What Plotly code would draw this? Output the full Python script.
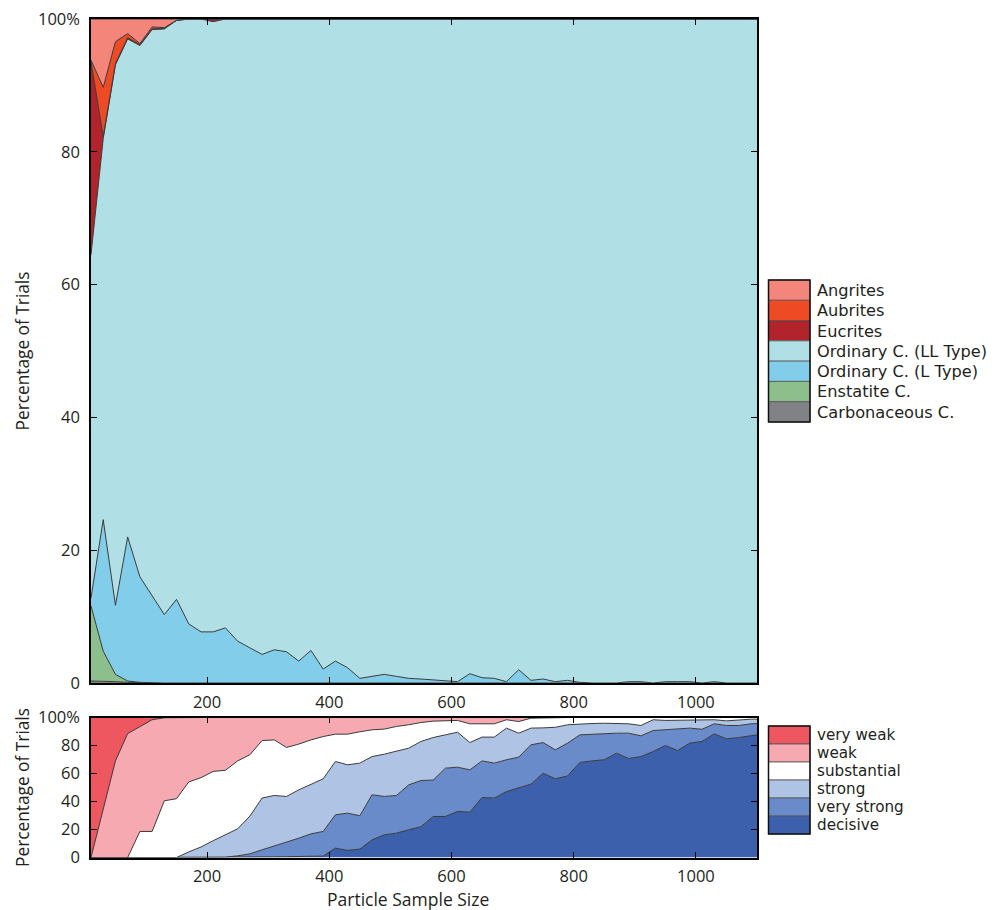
import plotly.graph_objects as go

# ---------------- data ----------------
sample_size = list(range(10, 1100, 20)) + [1100]

# top panel: percentage of trials classified as each meteorite type
carbonaceous = [0.3, 0.3, 0.2, 0.1] + [0.0] * 52
enstatite = [11.3, 4.5, 1.1, 0.2, 0.1] + [0.0] * 51
l_type = [1.2, 19.8, 10.4, 21.7, 15.9, 13.1, 10.3, 12.6, 8.9, 7.7, 7.7, 8.3, 6.3, 5.3,
          4.3, 5.0, 4.7, 3.3, 4.9, 2.1, 3.3, 2.3, 0.7, 1.0, 1.3, 1.0, 0.7, 0.6, 0.5, 0.4,
          0.2, 1.4, 0.8, 0.7, 0.2, 2.0, 0.4, 0.6, 0.2, 0.4, 0.1, 0, 0, 0, 0.2, 0.2, 0,
          0.2, 0.2, 0.2, 0, 0.2, 0, 0, 0, 0]
ll_type = [51.7, 57.4, 81.4, 75.0, 80.0, 85.3, 88.2, 87.2, 91.1, 92.3, 91.9, 91.7, 93.7,
           94.7, 95.7, 95.0, 95.3, 96.7, 95.1, 97.9, 96.7, 97.7, 99.3, 99.0, 98.7, 99.0,
           99.3, 99.4, 99.5, 99.6, 99.8, 98.6, 99.2, 99.3, 99.8, 98.0, 99.6, 99.4, 99.8,
           99.6, 99.9, 100, 100, 100, 99.8, 99.8, 100, 99.8, 99.8, 99.8, 100, 99.8, 100,
           100, 100, 100]
eucrites = [29.1, 0.3, 0.2, 0.2, 0.1, 0.1, 0.1, 0, 0, 0, 0.4] + [0.0] * 45
aubrites = [0.2, 7.4, 3.3, 0.6, 0.2, 0.3, 0.1] + [0.0] * 49
angrites = [6.2, 10.3, 3.4, 2.2, 3.7, 1.2, 1.3, 0.2] + [0.0] * 48

# bottom panel: strength of evidence
decisive = [0.0] * 12 + [0.3, 0.4, 0.5, 0.5, 0.6, 0.7, 0.8, 1.0, 6.7, 5.1, 6.0, 12.6, 16.2,
                         17.4, 19.8, 22.0, 29.3, 29.3, 32.9, 32.4, 42.9, 42.4, 47.1, 50.0,
                         52.4, 60.2, 56.2, 58.3, 67.9, 69.0, 69.8, 74.5, 70.7, 72.1, 75.7,
                         80.0, 76.4, 81.7, 82.9, 88.3, 84.8, 85.7, 87.1, 87.6]
very_strong = [0.0] * 11 + [0.3, 0.9, 2.2, 5.0, 7.8, 10.1, 13.1, 16.1, 17.6, 23.8, 26.6,
                            23.8, 32.2, 27.4, 26.9, 32.1, 33.0, 26.0, 34.5, 31.6, 30.2,
                            26.1, 25.0, 22.7, 21.7, 28.1, 21.9, 20.7, 23.4, 19.7, 19.1,
                            18.3, 14.3, 18.1, 14.8, 15.0, 11.2, 15.2, 10.7, 8.7, 7.2, 9.5,
                            8.6, 8.4, 8.1]
strong = [0.0] * 8 + [4.0, 7.5, 12.0, 15.7, 19.3, 26.9, 37.0, 36.0, 32.9, 34.5, 35.5, 37.6,
                      38.1, 34.5, 37.6, 27.3, 30.2, 31.4, 26.2, 27.9, 30.4, 23.8, 25.0,
                      19.5, 17.0, 18.6, 22.6, 17.1, 11.9, 10.5, 16.1, 13.1, 7.9, 7.6, 7.8,
                      6.9, 6.7, 7.4, 7.7, 6.7, 6.3, 5.5, 6.8, 2.9, 3.3, 4.1, 3.3, 3.1]
substantial = [0, 0, 0, 0, 18.6, 18.6, 40.5, 42.0, 50.0, 49.5, 49.5, 46.3, 48.5, 43.9, 41.0,
               39.7, 35.0, 32.7, 31.6, 30.2, 19.5, 21.9, 22.4, 19.1, 17.9, 17.9, 16.7, 13.5,
               11.7, 10.0, 8.4, 13.4, 9.7, 9.5, 6.0, 8.3, 7.1, 7.2, 7.0, 5.2, 4.5, 4.3, 4.1,
               4.3, 4.1, 5.2, 1.3, 2.1, 2.1, 2.1, 1.6, 1.6, 2.4, 1.6, 1.2, 1.2]
weak = [0, 35.0, 69.0, 88.5, 75.0, 79.8, 59.3, 58.0, 46.0, 43.0, 38.5, 37.7, 31.0, 26.6,
        16.5, 16.0, 21.4, 19.0, 16.0, 13.6, 11.9, 11.9, 10.2, 8.8, 8.3, 6.4, 5.2, 3.6, 2.6,
        2.4, 2.1, 4.5, 4.3, 4.5, 1.6, 2.9, 0.5, 0.2, 0, 0, 0, 0, 0, 0, 0.4, 0.5, 0.3, 0,
        0, 0, 0, 0, 0, 0, 0, 0]
very_weak = [100, 65.0, 31.0, 11.5, 6.4, 1.6, 0.2] + [0.0] * 49

top_series = [
    ("Carbonaceous C.", carbonaceous, "#808285"),
    ("Enstatite C.", enstatite, "#8DBF8C"),
    ("Ordinary C. (L Type)", l_type, "#82CDEA"),
    ("Ordinary C. (LL Type)", ll_type, "#B1DFE6"),
    ("Eucrites", eucrites, "#B1242B"),
    ("Aubrites", aubrites, "#EE4B24"),
    ("Angrites", angrites, "#F4857A"),
]
bottom_series = [
    ("decisive", decisive, "#3D60AC"),
    ("very strong", very_strong, "#6A8BCA"),
    ("strong", strong, "#AFC3E4"),
    ("substantial", substantial, "#FFFFFF"),
    ("weak", weak, "#F6A9B0"),
    ("very weak", very_weak, "#EE5660"),
]

y_ticks = [0, 20, 40, 60, 80, 100]
y_tick_text = ["0", "20", "40", "60", "80", "100%"]
x_ticks = [200, 400, 600, 800, 1000]

# ---------------- layout geometry (pixels in the screenshot) ----------------
W, H = 998, 910
OFF = 8  # page body margin offsets the figure in the browser
PX_L, PX_R = 91, 757
TOP_T, TOP_B = 19, 683
BOT_T, BOT_B = 717.5, 857.5


def fx(px):
    return (px - OFF) / W


def fy(py):
    return 1 - (py - OFF) / H


FONT = "Open Sans"
LEG_FONT = "DejaVu Sans"
TXT = "#231F20"
EDGE = "#3A3A3A"

fig = go.Figure()

for name, vals, col in top_series:
    fig.add_trace(go.Scatter(
        x=sample_size, y=vals, name=name, stackgroup="top", mode="lines",
        line=dict(color=EDGE, width=1), fillcolor=col, showlegend=False,
        xaxis="x", yaxis="y"))

for name, vals, col in bottom_series:
    fig.add_trace(go.Scatter(
        x=sample_size, y=vals, name=name, stackgroup="bottom", mode="lines",
        line=dict(color=EDGE, width=1), fillcolor=col, showlegend=False,
        xaxis="x2", yaxis="y2"))

axis_common = dict(
    showline=True, linecolor="black", linewidth=1.5, mirror="ticks",
    ticks="inside", ticklen=6, tickcolor="black", tickwidth=1,
    showgrid=False, zeroline=False, automargin=False, ticklabeloverflow="allow",
    tickfont=dict(family=FONT, size=16.5, color=TXT),
)
ytitle_font = dict(family=FONT, size=17.3, color=TXT)

fig.update_layout(
    width=W, height=H,
    margin=dict(l=0, r=0, t=0, b=0, autoexpand=False),
    paper_bgcolor="white", plot_bgcolor="white",
    showlegend=False,
    xaxis=dict(domain=[fx(PX_L), fx(PX_R)], anchor="y", range=[10, 1100],
               tickvals=x_ticks, ticklabelstandoff=3, **axis_common),
    yaxis=dict(domain=[fy(TOP_B), fy(TOP_T)], anchor="x", range=[0, 100],
               tickvals=y_ticks, ticktext=y_tick_text, ticklabelstandoff=6,
               title=dict(text="Percentage of Trials", standoff=4, font=ytitle_font),
               **axis_common),
    xaxis2=dict(domain=[fx(PX_L), fx(PX_R)], anchor="y2", range=[10, 1100],
                tickvals=x_ticks, ticklabelstandoff=3, **axis_common),
    yaxis2=dict(domain=[fy(BOT_B), fy(BOT_T)], anchor="x2", range=[0, 100],
                tickvals=y_ticks, ticktext=y_tick_text, ticklabelstandoff=6,
                title=dict(text="Percentage of Trials", standoff=4, font=ytitle_font),
                **axis_common),
)

# x-axis title of the lower panel, placed under the tick labels
fig.add_annotation(xref="paper", yref="paper", x=fx(407.5), y=fy(899),
                   text="Particle Sample Size", showarrow=False,
                   xanchor="center", yanchor="middle", borderpad=0,
                   font=dict(family=FONT, size=17.5, color=TXT))


# ---------------- custom legends (swatch column + labels) ----------------
def add_legend(series, top_px, bottom_px, base_size, glyph_size):
    n = len(series)
    step = (bottom_px - top_px) / n
    names = []
    for i, (name, _, col) in enumerate(reversed(series)):
        y0 = top_px + i * step
        y1 = y0 + step
        fig.add_shape(type="rect", xref="paper", yref="paper",
                      x0=fx(768.5), x1=fx(810), y0=fy(y1), y1=fy(y0),
                      fillcolor=col, line=dict(color="#555555", width=0.8))
        names.append(f"<span style='font-size:{glyph_size}px'>{name}</span>")
    fig.add_shape(type="rect", xref="paper", yref="paper",
                  x0=fx(768.5), x1=fx(810), y0=fy(bottom_px), y1=fy(top_px),
                  fillcolor="rgba(0,0,0,0)", line=dict(color="#111111", width=1.5))
    fig.add_annotation(xref="paper", yref="paper", x=fx(815.5),
                       y=fy((top_px + bottom_px) / 2), text="<br>".join(names),
                       showarrow=False, xanchor="left", yanchor="middle", align="left",
                       borderpad=0,
                       font=dict(family=LEG_FONT, size=base_size, color=TXT))


add_legend(top_series, 280, 422, 15.6, 16.2)
add_legend(bottom_series, 726, 834, 13.9, 15.2)

fig.write_html("out.html")
